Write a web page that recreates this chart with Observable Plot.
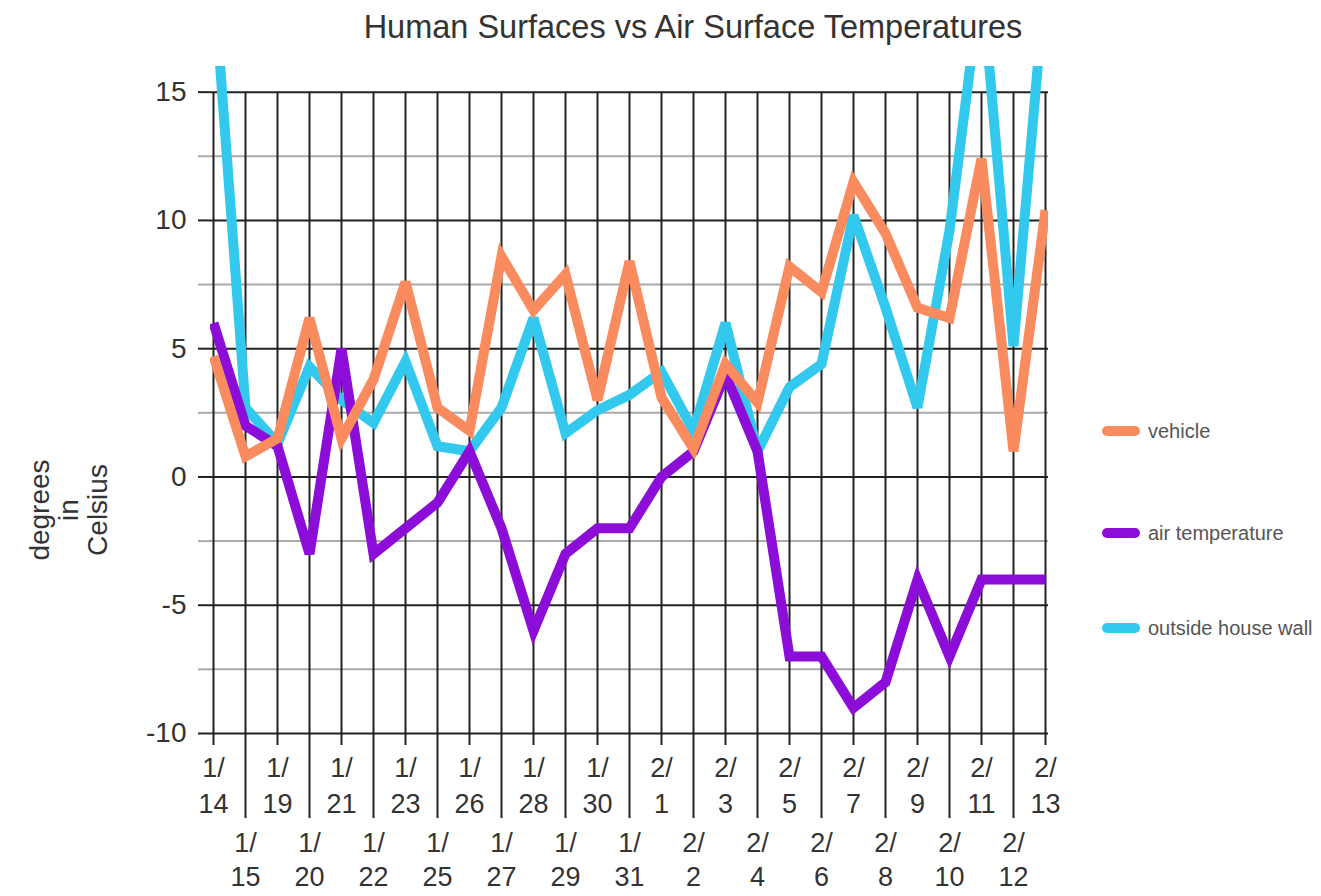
<!DOCTYPE html>
<html><head><meta charset="utf-8">
<script src="https://cdn.jsdelivr.net/npm/d3@7"></script>
<script src="https://cdn.jsdelivr.net/npm/@observablehq/plot@0.6"></script>
<style>
body{margin:0;background:#fff;font-family:"Liberation Sans",Arial,sans-serif;}
#wrap{position:relative;width:1321px;height:896px;overflow:hidden;background:#fff;}
#chart{position:absolute;left:0;top:0;}
#title{position:absolute;left:693px;top:9px;transform:translateX(-50%);white-space:nowrap;font-size:32.5px;color:#333;}
#ylabel{position:absolute;left:68px;top:510px;transform:translate(-50%,-50%) rotate(-90deg);text-align:center;font-size:28px;line-height:29px;color:#333;white-space:nowrap;}
.leg{position:absolute;left:1102px;height:24px;display:flex;align-items:center;white-space:nowrap;font-size:20px;color:#555;transform:translateY(-50%);}
.sw{display:inline-block;width:38px;height:10px;border-radius:5px;margin-right:8px;}
</style>
</head><body>
<div id="wrap">
  <div id="chart"></div>
  <div id="title"></div>
  <div id="ylabel"></div>
  <div id="legend"></div>
</div>
<script>
const titleText = "Human Surfaces vs Air Surface Temperatures";
const yLabelLines = ["degrees", "in", "Celsius"];
const dates = ["1/14","1/15","1/19","1/20","1/21","1/22","1/23","1/25","1/26","1/27","1/28","1/29","1/30","1/31","2/1","2/2","2/3","2/4","2/5","2/6","2/7","2/8","2/9","2/10","2/11","2/12","2/13"];
const vehicle = [4.7, 0.8, 1.5, 6.2, 1.5, 3.8, 7.6, 2.7, 1.8, 8.6, 6.5, 7.9, 3.0, 8.4, 3.1, 1.1, 4.4, 2.9, 8.2, 7.2, 11.5, 9.5, 6.6, 6.2, 12.4, 1.0, 10.4];
const airTemperature = [6.0, 2.0, 1.2, -3.0, 5.0, -3.0, -2.0, -1.0, 1.0, -2.0, -6.0, -3.0, -2.0, -2.0, 0.0, 1.0, 4.0, 1.0, -7.0, -7.0, -9.0, -8.0, -4.0, -7.0, -4.0, -4.0, -4.0];
const houseWall = [19.5, 2.7, 1.3, 4.3, 3.0, 2.1, 4.5, 1.2, 1.0, 2.7, 6.2, 1.7, 2.6, 3.2, 4.1, 1.8, 6.0, 1.0, 3.5, 4.4, 10.2, 6.6, 2.7, 9.6, 19.5, 5.1, 19.5];
const seriesNames = ["vehicle", "air temperature", "outside house wall"];
const seriesColors = ["#F98B5E", "#8C0CD8", "#33C9EF"];
const majorTicks = [-10, -5, 0, 5, 10, 15];
const minorTicks = [-7.5, -2.5, 2.5, 7.5, 12.5];

document.getElementById("title").textContent = titleText;
document.getElementById("ylabel").innerHTML = yLabelLines.join("<br>");

const evenDates = dates.filter((d, i) => i % 2 === 0);
const oddDates = dates.filter((d, i) => i % 2 === 1);
const fmt = d => d.replace("/", "/\n");
const lineOpts = (color) => ({x: (d, i) => dates[i], y: d => d, stroke: color, strokeWidth: 10, clip: true, strokeLinejoin: "miter", strokeMiterlimit: 3, strokeLinecap: "butt"});

const chart = Plot.plot({
  width: 1321, height: 896,
  marginLeft: 210, marginRight: 273, marginTop: 66, marginBottom: 163,
  style: {fontFamily: '"Liberation Sans", Arial, sans-serif', color: "#222", background: "transparent", overflow: "visible"},
  x: {type: "point", domain: dates, padding: 0},
  y: {domain: [-10, 16]},
  marks: [
    Plot.ruleY(minorTicks, {stroke: "#aaa", strokeWidth: 2}),
    Plot.ruleY(majorTicks, {stroke: "#222", strokeWidth: 2}),
    Plot.ruleX(dates, {x: d => d, y1: -10, y2: 15, stroke: "#222", strokeWidth: 2}),
    Plot.axisY({ticks: minorTicks, tickSize: 12, tickFormat: () => "", label: null, stroke: "#aaa", strokeWidth: 2}),
    Plot.axisY({ticks: majorTicks, tickSize: 12, tickPadding: 12, fontSize: 28, tickFormat: d => String(d), label: null, fill: "#333", strokeWidth: 2}),
    Plot.axisX({ticks: evenDates, tickSize: 12, tickPadding: 7, fontSize: 27, lineHeight: 1.3, tickFormat: fmt, label: null, fill: "#333", strokeWidth: 2}),
    Plot.axisX({ticks: oddDates, tickSize: 85, tickPadding: 10, fontSize: 27, lineHeight: 1.25, tickFormat: fmt, label: null, fill: "#333", strokeWidth: 2}),
    Plot.line(houseWall, lineOpts(seriesColors[2])),
    Plot.line(airTemperature, lineOpts(seriesColors[1])),
    Plot.line(vehicle, lineOpts(seriesColors[0]))
  ]
});
document.getElementById("chart").appendChild(chart);

const legendY = [431, 533, 628];
const legend = document.getElementById("legend");
seriesNames.forEach((name, i) => {
  const div = document.createElement("div");
  div.className = "leg";
  div.style.top = legendY[i] + "px";
  div.innerHTML = `<span class="sw" style="background:${seriesColors[i]}"></span><span>${name}</span>`;
  legend.appendChild(div);
});
</script>
</body></html>
